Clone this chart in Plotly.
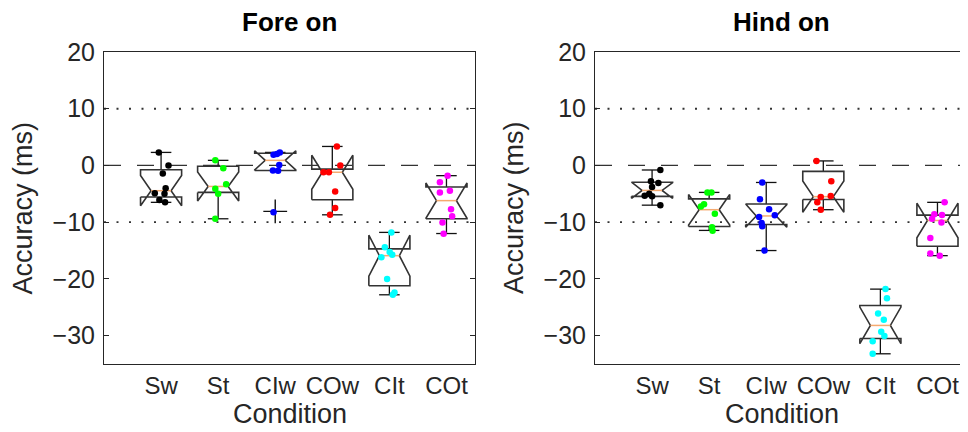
import math
import plotly.graph_objects as go

# ---------------- data ----------------
categories = ["Sw", "St", "CIw", "COw", "CIt", "COt"]
panel_titles = ["Fore on", "Hind on"]
point_colors = ["#000000", "#00ff00", "#0000ff", "#ff0000", "#00ffff", "#ff00ff"]
ref_dashed = [0]
ref_dotted = [10, -10]
y_ticks = [-30, -20, -10, 0, 10, 20]

# Fore on: individual points per condition
fore_sw = [2.3, 0.0, -1.4, -4.0, -4.9, -5.0, -6.1, -6.5]
fore_st = [0.9, -0.5, -3.3, -4.1, -5.0, -9.4]
fore_ciw = [2.3, 2.0, 1.9, 0.1, -0.9, -0.95, -8.25]
fore_cow = [3.35, 0.0, -1.2, -1.2, -4.6, -7.5, -8.7]
fore_cit = [-11.8, -14.4, -15.25, -15.75, -16.2, -20.0, -22.4, -22.8]
fore_cot = [-1.8, -2.95, -4.45, -4.75, -7.7, -8.95, -10.05, -12.05]

# Hind on: individual points per condition
hind_sw = [-0.8, -2.8, -3.1, -3.8, -5.35, -5.0, -5.45, -7.0]
hind_st = [-4.75, -4.75, -6.85, -7.25, -8.5, -10.9, -11.5]
hind_ciw = [-3.0, -5.95, -7.7, -9.1, -8.8, -10.15, -10.7, -15.0]
hind_cow = [0.8, -2.8, -5.55, -5.4, -6.5, -7.8]
hind_cit = [-21.8, -23.4, -26.1, -27.2, -29.3, -30.05, -31.0, -33.2]
hind_cot = [-6.5, -8.6, -8.75, -9.4, -10.05, -12.8, -15.5, -15.9]

# box statistics (Sw, St, CIw, COw, CIt, COt)
fore_q1 = [-5.55, -4.75, -0.9, -6.05, -21.2, -9.4]
fore_median = [-4.45, -3.7, 0.9, -1.2, -15.9, -6.2]
fore_q3 = [-0.75, -0.15, 2.15, -0.65, -14.7, -3.8]
fore_whisker_lo = [-6.5, -9.4, -0.9, -8.7, -22.8, -12.0]
fore_whisker_hi = [2.3, 0.9, 2.3, 3.35, -11.8, -1.8]
fore_outliers = [[], [], [-8.1], [], [], []]
fore_n = [8, 8, 8, 8, 8, 8]

hind_q1 = [-5.45, -10.75, -10.4, -6.0, -30.5, -14.25]
hind_median = [-4.4, -7.8, -8.9, -5.5, -28.2, -9.7]
hind_q3 = [-2.95, -5.9, -6.8, -1.05, -24.7, -8.75]
hind_whisker_lo = [-7.0, -11.45, -15.0, -7.8, -33.2, -15.9]
hind_whisker_hi = [-0.8, -4.75, -3.0, 0.8, -21.8, -6.5]
hind_outliers = [[], [], [], [], [], []]
hind_n = [8, 8, 8, 8, 8, 8]

# horizontal jitter of the dots (category units)
fore_jitter = [
    [-0.04, 0.13, 0.03, 0.08, -0.11, 0.06, -0.03, 0.07],
    [-0.05, 0.09, 0.14, -0.05, 0.0, -0.05],
    [0.08, 0.03, -0.03, 0.07, -0.04, 0.05, -0.03],
    [0.08, 0.14, -0.155, -0.06, 0.05, 0.05, -0.04],
    [0.035, -0.08, 0.005, 0.05, -0.14, -0.04, 0.09, 0.06],
    [0.02, -0.115, 0.06, -0.115, 0.08, 0.1, -0.07, -0.05],
]
hind_jitter = [
    [0.145, -0.02, 0.11, 0.0, -0.13, -0.05, 0.0, 0.145],
    [-0.03, 0.04, -0.09, -0.145, 0.1, 0.05, 0.06],
    [-0.07, -0.11, 0.05, -0.125, 0.15, -0.08, -0.07, -0.03],
    [-0.12, 0.14, -0.045, 0.13, -0.105, -0.045],
    [0.09, 0.115, -0.04, 0.06, 0.015, 0.07, -0.135, -0.135],
    [0.125, -0.055, 0.08, -0.095, 0.07, -0.125, -0.125, 0.04],
]

panels = [
    dict(points=[fore_sw, fore_st, fore_ciw, fore_cow, fore_cit, fore_cot],
         q1=fore_q1, med=fore_median, q3=fore_q3, wlo=fore_whisker_lo,
         whi=fore_whisker_hi, out=fore_outliers, n=fore_n, jit=fore_jitter),
    dict(points=[hind_sw, hind_st, hind_ciw, hind_cow, hind_cit, hind_cot],
         q1=hind_q1, med=hind_median, q3=hind_q3, wlo=hind_whisker_lo,
         whi=hind_whisker_hi, out=hind_outliers, n=hind_n, jit=hind_jitter),
]

# ---------------- styling ----------------
# The page body has an 8px default margin, so the figure is laid out
# 8px smaller and every pixel position is given relative to that offset.
OFF = 8
W, H = 968 - OFF, 432 - OFF
BOX_HALF = 0.36
NOTCH_HALF = 0.175
CAP_HALF = 0.18
BOX_COLOR = "#333333"
MED_COLOR = "#f5aa70"
AX_COLOR = "#262626"
FONT = "Liberation Sans, Arial, sans-serif"


def px_x(v):
    return (v - OFF) / W


def px_y(v):
    return 1 - (v - OFF) / H


x_domains = [[px_x(104), px_x(475)], [px_x(595), 1.0]]
unit = (475 - 104) / 6.5
x_ranges = [[0, 6.5], [0, (968 - 595) / unit]]
y_domain = [px_y(364), px_y(52)]

fig = go.Figure()

for p, pan in enumerate(panels):
    xa = "x" if p == 0 else "x2"
    ya = "y" if p == 0 else "y2"
    bx, by, wx, wy, mx, my = [], [], [], [], [], []
    for i in range(len(categories)):
        c = i + 1
        q1, med, q3 = pan["q1"][i], pan["med"][i], pan["q3"][i]
        half = 1.57 * (q3 - q1) / math.sqrt(pan["n"][i])
        nlo, nhi = med - half, med + half
        xl, xr = c - BOX_HALF, c + BOX_HALF
        bx += [xl, xl, c - NOTCH_HALF, xl, xl, xr, xr, c + NOTCH_HALF, xr, xr, xl, None]
        by += [q1, nlo, med, nhi, q3, q3, nhi, med, nlo, q1, q1, None]
        mx += [c - NOTCH_HALF, c + NOTCH_HALF, None]
        my += [med, med, None]
        whi, wlo = pan["whi"][i], pan["wlo"][i]
        if whi > q3:
            wx += [c, c, None, c - CAP_HALF, c + CAP_HALF, None]
            wy += [q3, whi, None, whi, whi, None]
        if wlo < q1:
            wx += [c, c, None, c - CAP_HALF, c + CAP_HALF, None]
            wy += [q1, wlo, None, wlo, wlo, None]
    fig.add_trace(go.Scatter(x=wx, y=wy, mode="lines", xaxis=xa, yaxis=ya,
                             line=dict(color="#111111", width=1.3),
                             hoverinfo="skip", showlegend=False))
    fig.add_trace(go.Scatter(x=bx, y=by, mode="lines", xaxis=xa, yaxis=ya,
                             line=dict(color=BOX_COLOR, width=1.6),
                             hoverinfo="skip", showlegend=False))
    fig.add_trace(go.Scatter(x=mx, y=my, mode="lines", xaxis=xa, yaxis=ya,
                             line=dict(color=MED_COLOR, width=1.5),
                             hoverinfo="skip", showlegend=False))
    ox, oy = [], []
    for i, outs in enumerate(pan["out"]):
        for v in outs:
            ox.append(i + 1)
            oy.append(v)
    if ox:
        fig.add_trace(go.Scatter(x=ox, y=oy, mode="markers", xaxis=xa, yaxis=ya,
                                 marker=dict(symbol="cross-thin-open", size=17, color="#111111",
                                             line=dict(color="#111111", width=1.4)),
                                 showlegend=False))
    for i, pts in enumerate(pan["points"]):
        xs = [i + 1 + j for j in pan["jit"][i][:len(pts)]]
        fig.add_trace(go.Scatter(x=xs, y=pts, mode="markers", xaxis=xa, yaxis=ya,
                                 marker=dict(color=point_colors[i], size=6.5, line=dict(width=0)),
                                 name=categories[i], showlegend=False))

shapes = []
for p in range(2):
    xr_ = "x domain" if p == 0 else "x2 domain"
    yr_ = "y" if p == 0 else "y2"
    for v in ref_dashed:
        shapes.append(dict(type="line", xref=xr_, yref=yr_, x0=0, x1=1, y0=v, y1=v,
                           layer="below", line=dict(color="#333333", width=1.3, dash="17px,16px")))
    for v in ref_dotted:
        shapes.append(dict(type="line", xref=xr_, yref=yr_, x0=0, x1=1, y0=v, y1=v,
                           layer="below", line=dict(color="#333333", width=1.8, dash="2px,10.5px")))

axis_x = dict(tickmode="array", tickvals=[1, 2, 3, 4, 5, 6], ticktext=categories,
              ticks="", showline=True, mirror=True, linecolor=AX_COLOR, linewidth=1,
              showgrid=False, zeroline=False, automargin=False,
              tickfont=dict(size=24, color=AX_COLOR, family=FONT), fixedrange=True)
axis_y = dict(range=[-35, 20], domain=y_domain, tickmode="array", tickvals=y_ticks,
              ticks="inside", ticklen=5, tickcolor=AX_COLOR, showline=True, mirror="ticks",
              linecolor=AX_COLOR, linewidth=1, showgrid=False, zeroline=False, automargin=False,
              ticklabelstandoff=3,
              tickfont=dict(size=25, color=AX_COLOR, family=FONT), fixedrange=True)

annotations = []
centers = [(104 + 475) / 2, (595 + 968) / 2]
ytitle_x = [22.5, 514]
for p in range(2):
    annotations.append(dict(text="<b>%s</b>" % panel_titles[p], x=px_x(centers[p]), y=px_y(22),
                            xref="paper", yref="paper", showarrow=False, xanchor="center",
                            yanchor="middle", font=dict(size=26, color="#000000", family=FONT)))
    annotations.append(dict(text="Condition", x=px_x(centers[p]), y=px_y(414),
                            xref="paper", yref="paper", showarrow=False, xanchor="center",
                            yanchor="middle", font=dict(size=27, color=AX_COLOR, family=FONT)))
    annotations.append(dict(text="Accuracy (ms)", x=px_x(ytitle_x[p]), y=px_y(208),
                            xref="paper", yref="paper", showarrow=False, xanchor="center",
                            yanchor="middle", textangle=-90,
                            font=dict(size=27, color=AX_COLOR, family=FONT)))

fig.update_layout(
    template="none",
    width=W, height=H, margin=dict(l=0, r=0, t=0, b=0, pad=0, autoexpand=False),
    paper_bgcolor="white", plot_bgcolor="white",
    xaxis=dict(axis_x, domain=x_domains[0], range=x_ranges[0], anchor="y"),
    yaxis=dict(axis_y, anchor="x"),
    xaxis2=dict(axis_x, domain=x_domains[1], range=x_ranges[1], anchor="y2"),
    yaxis2=dict(axis_y, anchor="x2"),
    shapes=shapes, annotations=annotations, showlegend=False,
    font=dict(family=FONT, color=AX_COLOR),
)

fig.write_html("out.html")
